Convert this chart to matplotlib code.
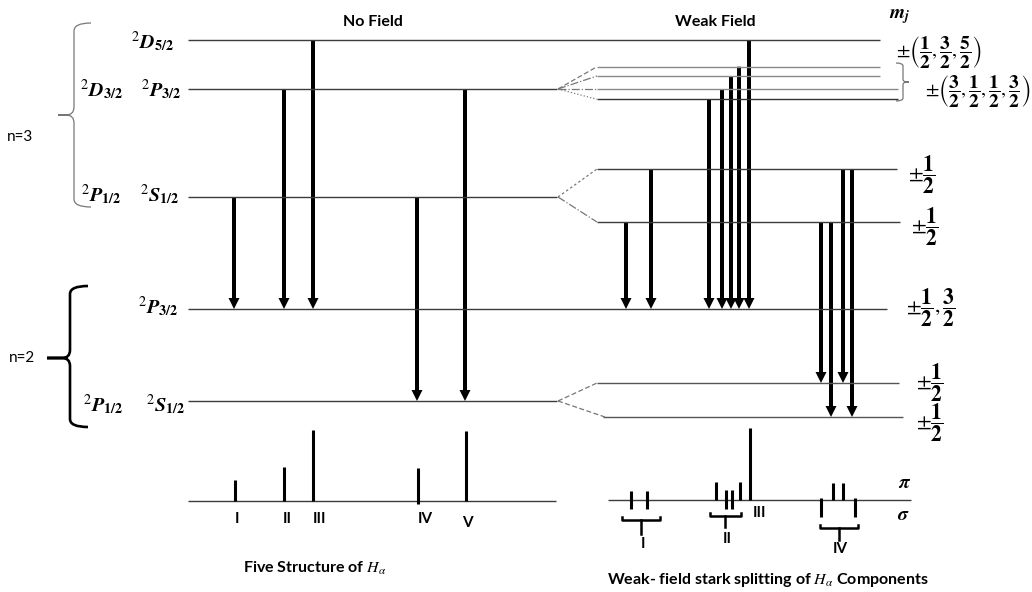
import numpy as np
import matplotlib
matplotlib.use("Agg")
import matplotlib.pyplot as plt
from matplotlib.path import Path
from matplotlib.patches import PathPatch

plt.rcParams['font.family'] = ['Lato', 'DejaVu Sans']
plt.rcParams['mathtext.fontset'] = 'stix'

# ---- level energies (drawn on a pixel-like scale, top = high energy)
n3_levels = [40, 89, 197]            # 2D5/2, 2P3/2 (D3/2), 2S1/2 (P1/2)
n2_levels = [309, 401]               # 2P3/2, 2S1/2 (P1/2)
p32_split = [66.7, 76, 89, 99.3]     # weak field sublevels of n=3 P3/2/D3/2
s12_split_n3 = [169, 222]            # weak field sublevels of n=3 S1/2
s12_split_n2 = [383, 417]            # weak field sublevels of n=2 S1/2

# ---- no field transitions (x, from, to)
nf_x = [234, 284, 313, 417, 465]
nf_from = [197, 89, 40, 197, 89]
nf_to = [309, 309, 309, 401, 401]

# ---- weak field transitions
wf_x = [626, 651, 709, 722, 731, 739, 749, 821, 831, 843, 852]
wf_from = [222, 169, 99.3, 89, 76, 66.7, 40, 222, 222, 169, 169]
wf_to = [309, 309, 309, 309, 309, 309, 309, 383, 417, 383, 417]

# ---- spectra
nf_spec_x = [235, 284, 313, 418, 466]
nf_spec_top = [480, 467, 430, 468, 431]
nf_spec_bot = [501, 501, 501, 504, 501]
nf_names = ['I', 'II', 'III', 'IV', 'V']

wf_spec_x = [631, 647, 716, 726, 732, 740, 750, 821, 833, 843, 855]
wf_spec_top = [491, 491, 482, 490, 490, 482, 428, 498, 483, 483, 498]
wf_spec_bot = [509, 509, 500, 509, 509, 500, 500, 517, 500, 500, 517]

fig = plt.figure(figsize=(10.32, 5.92), dpi=100)
ax = fig.add_axes([0, 0, 1, 1])
ax.set_xlim(0, 1032)
ax.set_ylim(592, 0)
ax.axis('off')

LC = '#3c3c3c'

# ---- levels, no field part
ax.hlines(n3_levels[0], 188, 880, color=LC, lw=1.0)
ax.hlines(n3_levels[1:], 188, 557, color=LC, lw=1.0)
ax.hlines(n2_levels[0], 188, 887, color=LC, lw=1.0)
ax.hlines(n2_levels[1], 188, 557, color=LC, lw=1.0)

# ---- weak field sublevels
ax.hlines(p32_split, 597, [880, 880, 898, 898],
          color=['#8a8a8a', '#8a8a8a', '#8a8a8a', '#333333'], lw=1.0)
ax.hlines(s12_split_n3, 597, [897, 900], color=LC, lw=1.0)
ax.hlines(s12_split_n2, [597, 603], [899, 903], color='#555555', lw=1.0)

# splitting guides
styles = [(0, (4, 2)), '-.', '-.', ':']
for yy, ls in zip(p32_split, styles):
    ax.plot([558, 597], [n3_levels[1], yy], color='#777777', lw=0.9, ls=ls)
for yy, ls in zip(s12_split_n3, [(0, (2, 2)), '-.']):
    ax.plot([558, 597], [n3_levels[2], yy], color='#777777', lw=0.9, ls=ls)
for yy, xe in zip(s12_split_n2, [597, 605]):
    ax.plot([558, xe], [n2_levels[1], yy], color='#777777', lw=0.9, ls=(0, (4, 2)))

# ---- transitions
def draw_arrow(x, y0, y1):
    ax.arrow(x, y0, 0, y1 - y0, width=4, head_width=11, head_length=11,
             length_includes_head=True, color='black', lw=0)

for x, a, b in zip(nf_x, nf_from, nf_to):
    draw_arrow(x, a, b)
for x, a, b in zip(wf_x, wf_from, wf_to):
    draw_arrow(x, a, b)

# ---- braces
def brace(x, y0, y1, ym, hook, tip, r, **kw):
    s = 1 if tip < x else -1
    verts = [(hook, y0), (x, y0), (x, y0 + r), (x, ym - r), (x, ym), (x - s * r, ym),
             (tip, ym), (x - s * r, ym), (x, ym), (x, ym + r), (x, y1 - r), (x, y1), (hook, y1)]
    codes = [Path.MOVETO, Path.CURVE3, Path.CURVE3, Path.LINETO, Path.CURVE3, Path.CURVE3,
             Path.LINETO, Path.LINETO, Path.CURVE3, Path.CURVE3, Path.LINETO, Path.CURVE3, Path.CURVE3]
    ax.add_patch(PathPatch(Path(verts, codes), fill=False, **kw))

brace(74, 23, 207, 115, 91, 58, 8, color='#777777', lw=0.9)
brace(70, 286, 427, 358, 88, 47, 8, color='black', lw=1.9)
brace(903, 63, 101, 82, 896, 909, 3, color='#777777', lw=0.9)

# ---- labels
ax.text(373, 22, 'No Field', ha='center', va='center', fontsize=11.5, fontweight='bold')
ax.text(715, 22, 'Weak Field', ha='center', va='center', fontsize=11.5, fontweight='bold')
ax.text(20, 137, 'n=3', ha='center', va='center', fontsize=11)
ax.text(22, 358, 'n=2', ha='center', va='center', fontsize=11)

lab = [(152, 42, r'$^{2}\mathbfit{D}_{\mathbf{5/2}}$'),
       (101, 90, r'$^{2}\mathbfit{D}_{\mathbf{3/2}}$'),
       (161, 90, r'$^{2}\mathbfit{P}_{\mathbf{3/2}}$'),
       (101, 195, r'$^{2}\mathbfit{P}_{\mathbf{1/2}}$'),
       (160, 195, r'$^{2}\mathbfit{S}_{\mathbf{1/2}}$'),
       (158, 307, r'$^{2}\mathbfit{P}_{\mathbf{3/2}}$'),
       (103, 405, r'$^{2}\mathbfit{P}_{\mathbf{1/2}}$'),
       (166, 405, r'$^{2}\mathbfit{S}_{\mathbf{1/2}}$')]
for x, y, t in lab:
    ax.text(x, y, t, ha='center', va='center', fontsize=14.5)

half = r'\dfrac{\mathbf{1}}{\mathbf{2}}'
f32 = r'\dfrac{\mathbf{3}}{\mathbf{2}}'
f52 = r'\dfrac{\mathbf{5}}{\mathbf{2}}'
ax.text(900, 17, r'$\mathbfit{m}_{\mathbfit{j}}$', ha='center', va='center', fontsize=14)
ax.text(896, 53, r'$\pm\left(' + half + ',' + f32 + ',' + f52 + r'\right)$',
        ha='left', va='center', fontsize=14)
ax.text(925, 92, r'$\pm\left(' + f32 + ',' + half + ',' + half + ',' + f32 + r'\right)$',
        ha='left', va='center', fontsize=14)
for x, y in [(908, 175), (911, 227), (916, 383), (916, 423)]:
    ax.text(x, y, r'$\pm' + half + '$', ha='left', va='center', fontsize=15.5)
ax.text(906, 308, r'$\pm' + half + ',' + f32 + '$', ha='left', va='center', fontsize=15.5)

# ---- no field spectrum
ax.hlines(501, 188, 556, color=LC, lw=1.0)
ax.vlines(nf_spec_x, nf_spec_bot, nf_spec_top, color='black', lw=2.2)
for x, y, t in zip([237, 287, 320, 425, 467], [519, 519, 519, 519, 523], nf_names):
    ax.text(x, y, t, ha='center', va='center', fontsize=11, fontweight='bold')
ax.text(315, 568, r'Five Structure of $H_{\alpha}$', ha='center', va='center',
        fontsize=11.5, fontweight='bold')

# ---- weak field spectrum
ax.hlines(500, 608, 911, color=LC, lw=1.0)
ax.vlines(wf_spec_x, wf_spec_bot, wf_spec_top, color='black', lw=2.2)

def group_bracket(x0, x1, y, xs, ys):
    ax.plot([x0, x0, x1, x1], [y - 3, y, y, y - 3], color='black', lw=1.8)
    ax.plot([xs, xs], [y, ys], color='black', lw=1.8)

group_bracket(622, 660, 520, 641, 534)
group_bracket(710, 741, 516, 725, 527)
group_bracket(820, 858, 528, 839, 540)
ax.text(643, 544, 'I', ha='center', va='center', fontsize=11, fontweight='bold')
ax.text(727, 539, 'II', ha='center', va='center', fontsize=11, fontweight='bold')
ax.text(759, 513, 'III', ha='center', va='center', fontsize=11, fontweight='bold')
ax.text(840, 549, 'IV', ha='center', va='center', fontsize=11, fontweight='bold')
ax.text(905, 483, r'$\boldsymbol{\pi}$', ha='center', va='center', fontsize=14)
ax.text(903, 514, r'$\boldsymbol{\sigma}$', ha='center', va='center', fontsize=14)
ax.text(768, 580, r'Weak- field stark splitting of $H_{\alpha}$ Components',
        ha='center', va='center', fontsize=11.5, fontweight='bold')

plt.savefig('out.png', dpi=100)
